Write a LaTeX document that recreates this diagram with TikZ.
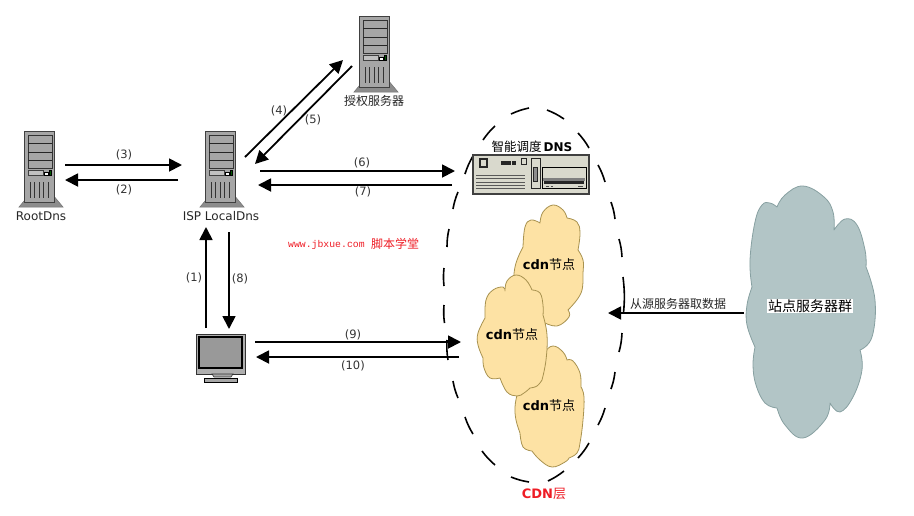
\documentclass[tikz,border=0pt]{standalone}
\usepackage{fontspec}
\setmainfont{DejaVu Sans}
\newfontfamily\cjk{Noto Sans CJK SC}
\newfontfamily\wmono{Liberation Mono}
\usetikzlibrary{arrows.meta}
\definecolor{srv}{HTML}{A6A6A6}
\definecolor{srvbase}{HTML}{8C8C8C}
\definecolor{boxc}{HTML}{D9D9CD}
\definecolor{ylw}{HTML}{FDE2A4}
\definecolor{ylwb}{HTML}{A8924F}
\definecolor{gry}{HTML}{B2C5C6}
\definecolor{gryb}{HTML}{87A0A1}
\definecolor{redc}{HTML}{EE1C25}
\tikzset{
  flow/.style={line width=1.8pt,-{Triangle[length=13pt,width=13pt]}},
  num/.style={font=\fontsize{11.5}{13}\selectfont,text=black!80,inner sep=0pt},
  lab/.style={font=\fontsize{12}{14}\selectfont,text=black!85,inner sep=0pt},
  dsh/.style={line width=1.6pt,line cap=butt},
  ycloud/.style={fill=ylw,draw=ylwb,line width=.8pt,line join=round},
  gcloud/.style={fill=gry,draw=gryb,line width=.8pt,line join=round},
  sm/.style={smooth,tension=.7},
  server/.pic={
    \draw[fill=srvbase,draw=srvbase!80!black,line width=.5pt] (5,64)--(-5,76)--(39,76)--(29,64)--cycle;
    \draw[fill=srv,draw=black!75,line width=.9pt] (0,0) rectangle (30,71);
    \draw[fill=srv,draw=black!80,line width=.8pt] (4,4) rectangle (28,37);
    \foreach \yy in {12,21,29}{\draw[black!85,line width=.7pt] (4,\yy)--(28,\yy);}
    \draw[fill=srv!70!white,draw=black!75,line width=.6pt] (4,39) rectangle (19,44);
    \draw[fill=white,draw=black,line width=.5pt] (20,41) rectangle (24,44);
    \draw[fill=green!35!black,draw=black,line width=.3pt] (25,39) rectangle (27,44);
    \foreach \xx in {6,10.5,15,19.5,24}{\draw[black!80,line width=.7pt] (\xx,51)--(\xx,67);}
  }
}
\begin{document}
\begin{tikzpicture}[x=1pt,y=-1pt]
\useasboundingbox (0,0) rectangle (914,515);

% servers
\pic at (24,131) {server};
\pic at (205,131) {server};
\pic at (359,16) {server};
\node[lab] (root) at (41,216) {RootDns};
\node[lab] (isp) at (221,216) {ISP LocalDns};
\node[lab,font=\fontsize{12}{14}\selectfont\cjk] (auth) at (374,101) {授权服务器};

% dashed CDN outline
\foreach \ax/\ay/\bx/\by in {
 511/114/529/108, 547/110/564/119, 578/133/589/148, 598/165/605/182,
 611/202/615/219, 619/239/622/257, 623/277/623.5/313, 622/333/619/352,
 615/372/611/389, 605/408/598/425, 589/443/578/458, 564/471/548/481,
 529/482/511/477, 495/465/482/451, 473/434/465/417, 458/398/453/381,
 448/360/447/340, 444.5/323/444/305, 444/286/444/268, 447/247/449/229,
 453/209/458/192, 465/174/473/156, 483/140/495/126}{
  \draw[dsh] (\ax,\ay) to[bend left=6] (\bx,\by);
}

% clouds
\draw[ycloud] plot[sm] coordinates {(540,223)(543,212)(553,205)(563,210)(567,218)}
  -- plot[sm] coordinates {(567,218)(577,222)(580,233)(578,250)}
  -- plot[sm] coordinates {(578,250)(583,260)(583,273)(581,293)(568,310)}
  -- plot[sm] coordinates {(568,310)(569,317)(557,326)(543,322)}
  -- plot[sm] coordinates {(543,322)(525,315)(515,290)(515,267)(523,247)}
  -- plot[sm] coordinates {(523,247)(525,227)(531,220)(540,223)} -- cycle;
\draw[ycloud] plot[sm] coordinates {(517,395)(530,365)(543,353)(553,346)(563,352)(567,360)}
  -- plot[sm] coordinates {(567,360)(573,361)(580,373)(581,387)}
  -- plot[sm] coordinates {(581,387)(584,397)(583,420)(580,443)(577,453)(569,458)}
  -- plot[sm] coordinates {(569,458)(565,462)(552,467)(540,460)(532,451)}
  -- plot[sm] coordinates {(532,451)(523,447)(520,433)}
  -- plot[sm] coordinates {(520,433)(516,420)(515,407)(517,395)} -- cycle;
\draw[ycloud] plot[sm] coordinates {(485,318)(486,300)(493,290)(503,287)(505,291)}
  -- plot[sm] coordinates {(505,291)(507,281)(516,275)(526,280)(532,290)}
  -- plot[sm] coordinates {(532,290)(540,293)(543,305)(543,315)}
  -- plot[sm] coordinates {(543,315)(547,335)(546,360)(542,380)}
  -- plot[sm] coordinates {(542,380)(537,386)(530,388)}
  -- plot[sm] coordinates {(530,388)(524,393)(517,396)(507,392)(500,378)}
  -- plot[sm] coordinates {(500,378)(490,378)(484,368)(483,358)}
  -- plot[sm] coordinates {(483,358)(478,345)(478,333)(485,318)} -- cycle;
\draw[gcloud] plot[sm] coordinates {(777,207)(785,195)(803,186)(824,197)(833,212)(834,230)}
  -- plot[sm] coordinates {(834,230)(845,219)(857,225)(865,250)(866,267)}
  -- plot[sm] coordinates {(866,267)(875,300)(872,337)(860,350)}
  -- plot[sm] coordinates {(860,350)(862,370)(853,397)(840,412)(830,403)}
  -- plot[sm] coordinates {(830,403)(825,420)(803,438)(785,425)(777,408)}
  -- plot[sm] coordinates {(777,408)(765,403)(756,385)(753,365)(755,347)}
  -- plot[sm] coordinates {(755,347)(747,325)(747,305)(752,287)}
  -- plot[sm] coordinates {(752,287)(750,260)(755,222)(762,205)(770,203)(777,207)} -- cycle;

% DNS box
\draw[fill=boxc,draw=black!75,line width=1.1pt] (473,155) rectangle (589,194);
\draw[fill=black!55,draw=black!85,line width=.8pt] (479,158) rectangle (487,167);
\draw[fill=boxc,draw=black!85,line width=.8pt] (480,159) rectangle (486,166);
\fill[black!85] (501,161) rectangle (511,165);
\fill[black!85] (512,161) rectangle (516,165);
\draw[fill=boxc,draw=black!85,line width=.7pt] (521,158) rectangle (526,164);
\foreach \yy in {175,178,182,185,188}{\draw[black!65,line width=.6pt] (476,\yy)--(525,\yy);}
\draw[fill=boxc,draw=black!85,line width=.8pt] (531,158) rectangle (540,188);
\draw[fill=black!45,draw=black!85,line width=.6pt] (533,167) rectangle (537,181);
\draw[fill=boxc,draw=black,line width=.9pt] (542,167) rectangle (586,188);
\fill[black!50] (543,178) rectangle (585,181);
\fill[black!85] (544,181) rectangle (584,184);
\draw[black!70,line width=.7pt] (546,186)--(549,186) (551,186)--(553,186) (578,186)--(583,186);
\node[inner sep=0pt] (dns) at (532,147) {\fontsize{12.5}{14}\selectfont{\cjk 智能调度}\,\fontsize{12}{14}\selectfont\textbf{DNS}};

% monitor
\draw[fill=srv!90!white,draw=black!80,line width=.9pt] (196,334) rectangle (245,374);
\draw[fill=black!40,draw=black,line width=1.1pt] (199,337) rectangle (242,368);
\draw[fill=srv,draw=black!80,line width=.6pt] (212,374) -- (233,374) -- (231,377) -- (214,377) -- cycle;
\draw[fill=srv,draw=black,line width=.9pt] (204.5,378.5) rectangle (237.5,382);

% connector ends
\coordinate (r1) at (65,165);  \coordinate (i1) at (182,165);
\coordinate (i2) at (178,180); \coordinate (r2) at (65,180);
\coordinate (i3) at (245,157); \coordinate (a3) at (343,60);
\coordinate (a4) at (352,66);  \coordinate (i4) at (255,164);
\coordinate (i5) at (260,171); \coordinate (d5) at (455,171);
\coordinate (d6) at (452,185); \coordinate (i6) at (258,185);
\coordinate (p1) at (206,328); \coordinate (i7) at (206,227);
\coordinate (i8) at (229,232); \coordinate (p8) at (229,329);
\coordinate (p9) at (255,342); \coordinate (c9) at (461,342);
\coordinate (c10) at (459,357);\coordinate (p10) at (256,357);
\coordinate (s1) at (744,313); \coordinate (c1) at (608,313);

\draw[flow] (r1)--(i1);
\draw[flow] (i2)--(r2);
\draw[flow] (i3)--(a3);
\draw[flow] (a4)--(i4);
\draw[flow] (i5)--(d5);
\draw[flow] (d6)--(i6);
\draw[flow] (p1)--(i7);
\draw[flow] (i8)--(p8);
\draw[flow] (p9)--(c9);
\draw[flow] (c10)--(p10);
\draw[flow] (s1)--(c1);

% numbers
\node[num] (n3) at (124,155) {(3)};
\node[num] (n2) at (124,190) {(2)};
\node[num] (n4) at (279,111) {(4)};
\node[num] (n5) at (313,120) {(5)};
\node[num] (n6) at (362,163) {(6)};
\node[num] (n7) at (363,192) {(7)};
\node[num] (n1) at (194,278) {(1)};
\node[num] (n8) at (240,279) {(8)};
\node[num] (n9) at (353,335) {(9)};
\node[num] (n10) at (353,366) {(10)};

% cloud labels
\node[inner sep=0pt] (c1t) at (549,265) {\fontsize{13}{15}\selectfont\textbf{cdn}{\cjk 节点}};
\node[inner sep=0pt] (c2t) at (512,335) {\fontsize{13}{15}\selectfont\textbf{cdn}{\cjk 节点}};
\node[inner sep=0pt] (c3t) at (549,406) {\fontsize{13}{15}\selectfont\textbf{cdn}{\cjk 节点}};
\node[inner sep=0pt,text=redc] (cdn) at (544,494) {\fontsize{13}{15}\selectfont\textbf{CDN}{\cjk 层}};
\node[fill=white,inner sep=1pt,font=\fontsize{14}{16}\selectfont\cjk] (site) at (810,306) {站点服务器群};
\node[inner sep=0pt,font=\fontsize{12}{14}\selectfont\cjk,text=black!85] (fetch) at (678,304) {从源服务器取数据};
\node[inner sep=0pt,text=redc,font=\fontsize{9.8}{12}\selectfont\wmono,anchor=west] (wm1) at (288,245) {www.jbxue.com};
\node[inner sep=0pt,text=redc,font=\fontsize{12}{14}\selectfont\cjk,anchor=west] (wm2) at (371,244) {脚本学堂};
\end{tikzpicture}
\end{document}
